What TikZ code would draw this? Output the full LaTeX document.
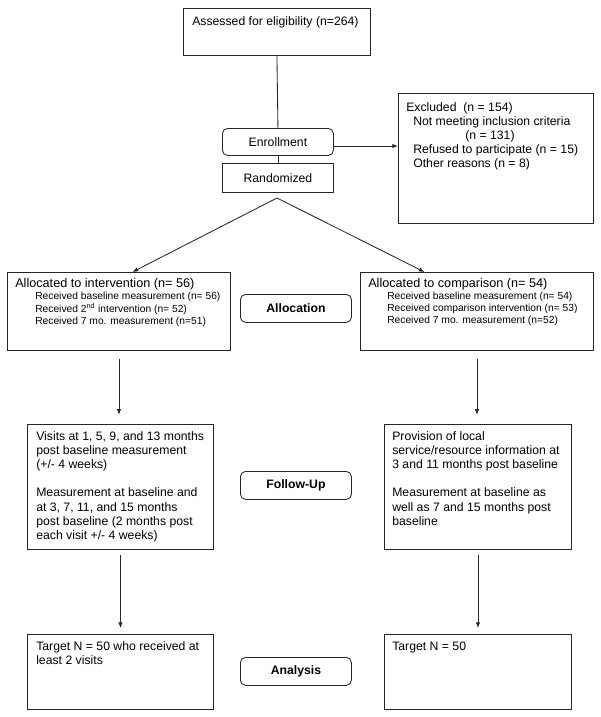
\documentclass[tikz,border=0pt]{standalone}
\usepackage{fontspec}
\setmainfont{Liberation Sans}
\usetikzlibrary{arrows.meta}

\newcommand{\textlines}[1]{\begin{tabular}[t]{@{}l@{}}#1\end{tabular}}

\begin{document}
\begin{tikzpicture}[x=0.025cm, y=-0.025cm,
    box/.style={draw=black!85, line width=0.6pt, anchor=north west, inner sep=0pt},
    stage/.style={box, rounded corners=0.13cm},
    lab/.style={font=\fontsize{8.7}{10.1}\selectfont},
    txt/.style={anchor=base west, inner sep=0pt, font=\fontsize{8.7}{10.1}\selectfont},
    small/.style={txt, font=\fontsize{7.3}{8.7}\selectfont},
    line/.style={draw=black!85, line width=0.6pt},
    arr/.style={line, -{Latex[length=0.14cm, width=0.11cm]}}]
    \useasboundingbox (0,0) rectangle (600,717);
    \fill[white] (0,0) rectangle (600,717);

    % boxes
    \node[box, minimum width=4.675cm, minimum height=1.175cm] (assess) at (183,8) {};
    \node[stage, lab, minimum width=2.775cm, minimum height=0.675cm] (enroll) at (222,128) {Enrollment};
    \node[box, lab, minimum width=2.775cm, minimum height=0.725cm] (rand) at (222,163) {Randomized};
    \node[box, minimum width=4.875cm, minimum height=3.25cm] (excl) at (398,93) {};

    \node[box, minimum width=5.575cm, minimum height=1.95cm] (allocL) at (7,272) {};
    \node[box, minimum width=5.825cm, minimum height=1.95cm] (allocR) at (360,272) {};
    \node[stage, lab, minimum width=2.775cm, minimum height=0.7cm] (allocLab) at (240,294) {\bfseries Allocation};

    \node[box, minimum width=4.65cm, minimum height=3.125cm] (followL) at (27,424) {};
    \node[box, minimum width=4.675cm, minimum height=3.125cm] (followR) at (384,424) {};
    \node[stage, lab, minimum width=2.775cm, minimum height=0.7cm] (followLab) at (240,471) {\bfseries Follow-Up};

    \node[box, minimum width=4.65cm, minimum height=1.875cm] (analysisL) at (27,634) {};
    \node[box, minimum width=4.675cm, minimum height=1.875cm] (analysisR) at (384,634) {};
    \node[stage, lab, minimum width=2.775cm, minimum height=0.7cm] (analysisLab) at (240,657) {\bfseries Analysis};

    % texts
    \node[txt] (assessTxt) at (192,25) {Assessed for eligibility (n=264)};
    \node[txt] (exclTxt) at (406,111) {\textlines{Excluded~~(n = 154)\\
        \hspace*{0.175cm}Not meeting inclusion criteria\\
        \hspace*{1.475cm}(n = 131)\\
        \hspace*{0.175cm}Refused to participate (n = 15)\\
        \hspace*{0.175cm}Other reasons (n = 8)}};

    \node[txt, font=\fontsize{9}{10.5}\selectfont] (allocLHead) at (15,287) {Allocated to intervention (n= 56)};
    \node[small] (allocLTxt) at (35,299.5) {\textlines{Received baseline measurement (n= 56)\\
        Received 2\textsuperscript{nd} intervention (n= 52)\\
        Received 7 mo. measurement (n=51)}};
    \node[txt, font=\fontsize{9}{10.5}\selectfont] (allocRHead) at (368,287) {Allocated to comparison (n= 54)};
    \node[small] (allocRTxt) at (387,299.5) {\textlines{Received baseline measurement (n= 54)\\
        Received comparison intervention (n= 53)\\
        Received 7 mo. measurement (n=52)}};

    \node[txt] (followLTxt) at (36,440) {\textlines{Visits at 1, 5, 9, and 13 months\\
        post baseline measurement\\
        (+/- 4 weeks)\\[10.1pt]
        Measurement at baseline and\\
        at 3, 7, 11, and 15 months\\
        post baseline (2 months post\\
        each visit +/- 4 weeks)}};
    \node[txt] (followRTxt) at (392,440) {\textlines{Provision of local\\
        service/resource information at\\
        3 and 11 months post baseline\\[10.1pt]
        Measurement at baseline as\\
        well as 7 and 15 months post\\
        baseline}};

    \node[txt] (analysisLTxt) at (36,650) {\textlines{Target N = 50 who received at\\
        least 2 visits}};
    \node[txt] (analysisRTxt) at (392,650) {Target N = 50};

    % connectors
    \coordinate (split) at (277,198);
    \coordinate (exclIn) at (398,146);
    \draw[line] (assess.south) -- (enroll.north);
    \draw[line] (enroll) -- (rand);
    \draw[arr] (enroll.east |- exclIn) -- (exclIn);
    \draw[arr] (split) -- ([shift={(13.5,0)}]allocL.north);
    \draw[arr] (split) -- ([shift={(-52.5,0)}]allocR.north);
    \draw[arr, shorten <=0.2cm, shorten >=0.23cm] (allocL.south) -- (allocL.south |- followL.north);
    \draw[arr, shorten <=0.2cm, shorten >=0.23cm] (allocR.south) -- (allocR.south |- followR.north);
    \draw[arr, shorten <=0.13cm, shorten >=0.15cm] (followL.south) -- (followL.south |- analysisL.north);
    \draw[arr, shorten <=0.13cm, shorten >=0.15cm] (followR.south) -- (followR.south |- analysisR.north);
\end{tikzpicture}
\end{document}
